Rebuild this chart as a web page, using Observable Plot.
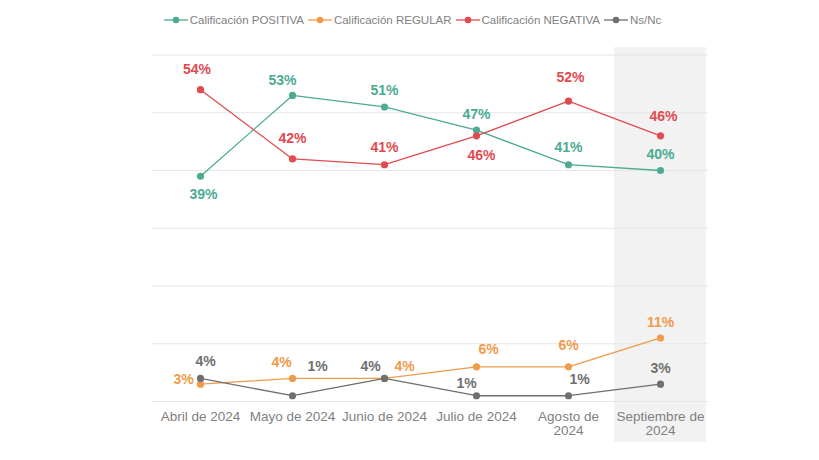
<!DOCTYPE html>
<html>
<head>
<meta charset="utf-8">
<script src="https://cdn.jsdelivr.net/npm/d3@7"></script>
<script src="https://cdn.jsdelivr.net/npm/@observablehq/plot@0.6"></script>
<style>
  html, body { margin: 0; padding: 0; background: #fff; }
  body { width: 819px; height: 460px; overflow: hidden; font-family: "Liberation Sans", Arial, sans-serif; }
  #legend { height: 36px; display: flex; justify-content: center; align-items: center; padding-left: 10px; padding-top: 3px; box-sizing: border-box; font-size: 11.5px; color: #808080; }
  .item { display: flex; align-items: center; margin-right: 4px; }
  .item svg { margin-right: 2px; }
</style>
</head>
<body>
<div id="legend"></div>
<div id="chart"></div>
<script>
const months = ["Abril de 2024", "Mayo de 2024", "Junio de 2024", "Julio de 2024", "Agosto de 2024", "Septiembre de 2024"];
const tickLabels = ["Abril de 2024", "Mayo de 2024", "Junio de 2024", "Julio de 2024", "Agosto de\n2024", "Septiembre de\n2024"];
const series = ["Calificación POSITIVA", "Calificación REGULAR", "Calificación NEGATIVA", "Ns/Nc"];
const positiva = [39, 53, 51, 47, 41, 40];
const regular = [3, 4, 4, 6, 6, 11];
const negativa = [54, 42, 41, 46, 52, 46];
const nsnc = [4, 1, 4, 1, 1, 3];
const highlighted = ["Septiembre de 2024"];

// styling
const colors = ["#4bab93", "#f19a4b", "#e04b4f", "#6f6f6f"];
// label placement [dx, dy] per point
const labelOffsets = [
  [[3, 18], [-10, -15], [0, -16], [0, -16], [0, -17], [0, -16]],
  [[-17, -5], [-11, -16], [20, -12], [12, -17], [0, -21], [0, -15]],
  [[-3.5, -20], [0, -20], [0, -17], [5, 20], [2, -24], [3, -19]],
  [[5, -17], [25, -29], [-14, -12], [-10, -12], [11, -16], [0, -16]]
];

const values = [positiva, regular, negativa, nsnc];
const data = series.flatMap((s, i) => months.map((m, j) => ({series: s, month: m, value: values[i][j], si: i, mi: j})));

// legend
const legend = document.getElementById("legend");
series.forEach((s, i) => {
  const it = document.createElement("div");
  it.className = "item";
  it.innerHTML = `<svg width="24" height="10"><line x1="0" x2="24" y1="5" y2="5" stroke="${colors[i]}" stroke-width="1.3"/><circle cx="12" cy="5" r="3.3" fill="${colors[i]}"/></svg><span>${s}</span>`;
  legend.appendChild(it);
});

const labelMarks = data.map(d => Plot.text([d], {
  x: "month", y: "value", text: r => r.value + "%",
  fill: "series",
  dx: labelOffsets[d.si][d.mi][0], dy: labelOffsets[d.si][d.mi][1],
  fontSize: 14, fontWeight: "bold"
}));

const chart = Plot.plot({
  width: 819,
  height: 424,
  marginLeft: 152,
  marginRight: 111,
  marginTop: 18.5,
  marginBottom: 59,
  style: {fontFamily: "'Liberation Sans', Arial, sans-serif", background: "#fff"},
  x: {type: "band", domain: months, padding: 0, label: null},
  y: {domain: [0, 60], label: null, axis: null},
  color: {domain: series, range: colors},
  marks: [
    Plot.barY(highlighted, {x: d => d, y1: 0, y2: 60, fill: "#f2f2f2", insetTop: -7.5, insetBottom: -41}),
    Plot.ruleY(d3.range(0, 61, 10), {stroke: "#e6e6e6", strokeWidth: 1}),
    Plot.axisX({tickSize: 0, tickPadding: 9, fontSize: 13.5, fill: "#7f7f7f", lineHeight: 1.07,
      tickFormat: m => tickLabels[months.indexOf(m)]}),
    Plot.lineY(data, {x: "month", y: "value", z: "series", stroke: "series", strokeWidth: 1.3}),
    Plot.dot(data, {x: "month", y: "value", fill: "series", r: 3.6}),
    ...labelMarks
  ]
});
document.getElementById("chart").appendChild(chart);
</script>
</body>
</html>
